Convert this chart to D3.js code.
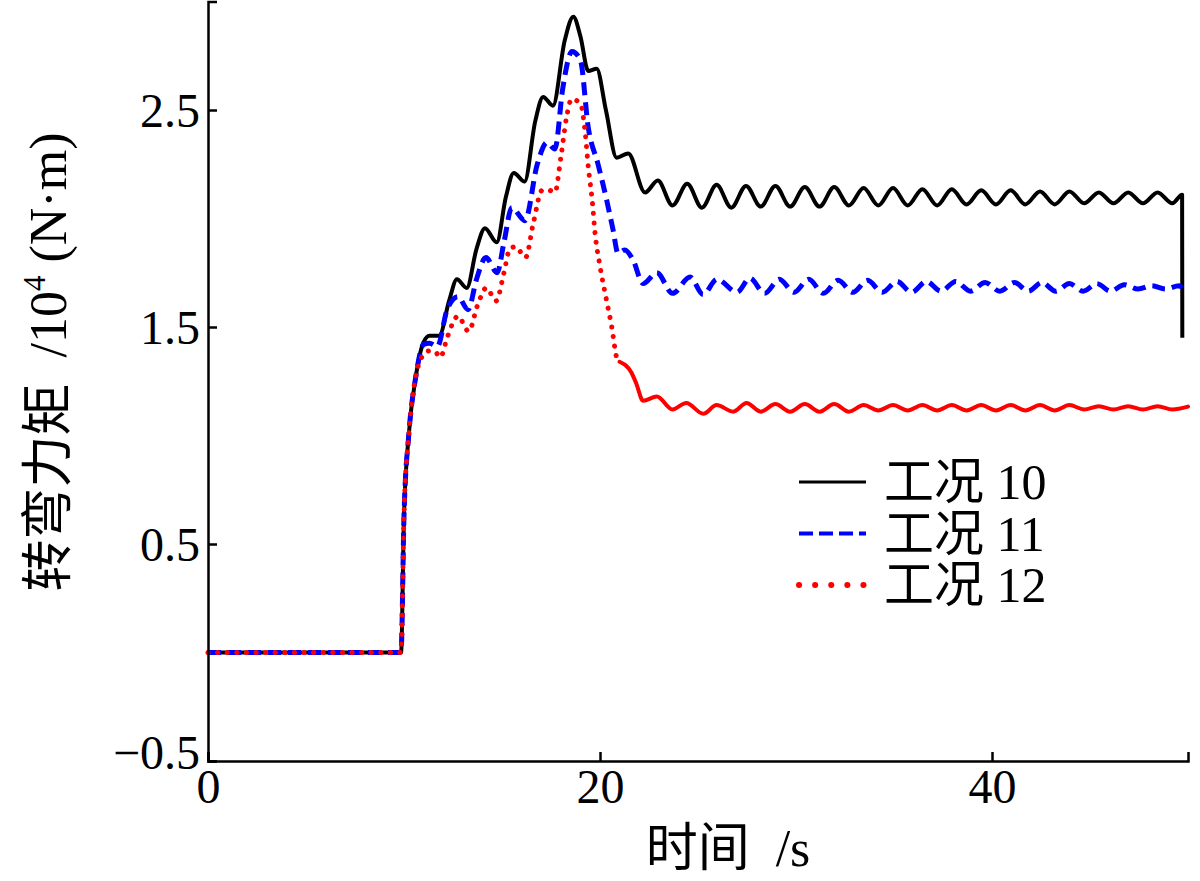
<!DOCTYPE html>
<html lang="zh">
<head>
<meta charset="utf-8">
<title>转弯力矩</title>
<script src="https://d3js.org/d3.v7.min.js"></script>
<style>
  body { margin: 0; background: #fff; }
  svg { display: block; font-family: "Liberation Serif", "Noto Sans CJK SC", serif; }
  .axis path, .axis line { stroke: #000; stroke-width: 2.5; }
  .axis text { font-size: 48px; fill: #000; font-family: "Liberation Serif", serif; }
</style>
</head>
<body>
<svg width="1200" height="881"></svg>
<script>
// series names and colours
const seriesNames = ["工况 10", "工况 11", "工况 12"];
const seriesColors = ["#000000", "#0000ff", "#ff0000"];

// tick values / labels
const xTickValues = [0, 20, 40];
const xTickLabels = ["0", "20", "40"];
const yTickValues = [-0.5, 0.5, 1.5, 2.5];
const yTickLabels = ["\u22120.5", "0.5", "1.5", "2.5"];

// [time s, torque 10^4 N·m]
const case10 = [
  [0, 0], [9.85, 0], [10.0, 0.63], [10.25, 1.01], [10.6, 1.27], [11.0, 1.43],
  [11.3, 1.46], [11.8, 1.46], [12.3, 1.62], [12.7, 1.72], [13.2, 1.68], [13.7, 1.86],
  [14.13, 1.955], [14.73, 1.89], [15.2, 2.10], [15.6, 2.21], [16.15, 2.17], [16.7, 2.45],
  [17.1, 2.56], [17.6, 2.52], [18.2, 2.82], [18.64, 2.93], [19.0, 2.84], [19.4, 2.68],
  [19.83, 2.69], [20.3, 2.50], [20.85, 2.28], [21.44, 2.30], [22.3, 2.12], [22.95, 2.175],
  [23.7, 2.06], [24.45, 2.16], [25.2, 2.05], [25.95, 2.155], [26.7, 2.05], [27.45, 2.15],
  [28.2, 2.055], [28.95, 2.15], [29.7, 2.055], [30.45, 2.145], [31.2, 2.055], [31.95, 2.145],
  [32.7, 2.06], [33.45, 2.14], [34.2, 2.06], [34.95, 2.14], [35.7, 2.06], [36.45, 2.135],
  [37.2, 2.06], [37.95, 2.135], [38.7, 2.065], [39.45, 2.13], [40.2, 2.065], [40.95, 2.13],
  [41.7, 2.065], [42.45, 2.125], [43.2, 2.065], [43.95, 2.125], [44.7, 2.07], [45.45, 2.12],
  [46.2, 2.07], [46.95, 2.12], [47.7, 2.07], [48.45, 2.12], [49.2, 2.07], [49.7, 2.11],
  [49.71, 1.45]
];

const case11 = [
  [0, 0], [9.85, 0], [10.0, 0.63], [10.25, 1.01], [10.6, 1.27], [11.0, 1.42],
  [11.3, 1.425], [11.7, 1.41], [12.2, 1.58], [12.75, 1.64], [13.27, 1.58], [13.7, 1.72],
  [14.18, 1.82], [14.75, 1.75], [15.1, 1.89], [15.5, 2.05], [16.17, 1.99], [16.8, 2.25],
  [17.3, 2.35], [17.7, 2.32], [18.1, 2.60], [18.57, 2.77], [19.0, 2.73], [19.4, 2.42],
  [19.9, 2.25], [20.34, 2.085], [20.66, 1.95], [20.92, 1.84], [21.27, 1.855], [21.68, 1.81],
  [22.2, 1.70], [22.9, 1.75], [23.7, 1.655], [24.6, 1.73], [25.26, 1.65], [25.97, 1.72],
  [26.99, 1.66], [27.65, 1.725], [28.4, 1.655], [29.15, 1.72], [29.9, 1.66], [30.65, 1.72],
  [31.4, 1.655], [32.15, 1.715], [32.9, 1.66], [33.65, 1.715], [34.4, 1.66], [35.15, 1.71],
  [35.9, 1.66], [36.65, 1.71], [37.4, 1.665], [38.15, 1.71], [38.9, 1.665], [39.65, 1.705],
  [40.4, 1.665], [41.15, 1.705], [41.85, 1.665], [42.55, 1.705], [43.25, 1.665], [43.95, 1.70],
  [44.65, 1.665], [45.35, 1.70], [46.05, 1.665], [46.75, 1.695], [47.45, 1.675], [48.15, 1.69],
  [48.85, 1.675], [49.55, 1.69], [49.7, 1.68]
];

const case12 = [
  [0, 0], [9.85, 0], [10.0, 0.63], [10.25, 1.01], [10.6, 1.27], [10.9, 1.36],
  [11.3, 1.39], [11.6, 1.385], [11.85, 1.36], [12.2, 1.45], [12.5, 1.52], [12.75, 1.55],
  [13.3, 1.48], [13.75, 1.60], [14.2, 1.68], [14.7, 1.62], [15.1, 1.75], [15.4, 1.86],
  [15.7, 1.87], [16.2, 1.82], [16.6, 1.98], [17.05, 2.13], [17.4, 2.13], [17.7, 2.12],
  [18.0, 2.28], [18.3, 2.47], [18.55, 2.55], [19.0, 2.53], [19.25, 2.39], [19.4, 2.24],
  [19.6, 2.085], [19.75, 1.93], [20.0, 1.78], [20.34, 1.62], [20.6, 1.50], [20.85, 1.36],
  [21.0, 1.34], [21.6, 1.29], [21.85, 1.24], [22.2, 1.16], [22.9, 1.18], [23.7, 1.12],
  [24.4, 1.15], [25.27, 1.10], [25.95, 1.14], [26.8, 1.11], [27.48, 1.15], [28.2, 1.11],
  [28.95, 1.145], [29.7, 1.11], [30.45, 1.145], [31.2, 1.11], [31.95, 1.145], [32.7, 1.11],
  [33.45, 1.14], [34.2, 1.115], [34.95, 1.14], [35.7, 1.115], [36.45, 1.14], [37.2, 1.115],
  [37.95, 1.14], [38.7, 1.115], [39.45, 1.14], [40.2, 1.115], [40.95, 1.14], [41.7, 1.115],
  [42.45, 1.14], [43.2, 1.115], [43.95, 1.14], [44.7, 1.12], [45.45, 1.135], [46.2, 1.12],
  [46.95, 1.135], [47.7, 1.12], [48.45, 1.135], [49.2, 1.12], [50.0, 1.133]
];

// after this time the dense red dots merge into a solid trace
const redSolidFrom = 21.0;

const svg = d3.select("svg");

const x = d3.scaleLinear().domain([0, 50]).range([208, 1188]);
const y = d3.scaleLinear().domain([-0.5, 3.0]).range([761, 1.5]);

const line = d3.line()
  .x(d => x(d[0]))
  .y(d => y(d[1]))
  .curve(d3.curveMonotoneX);

function drawSeries(data, color, width, dash, cap) {
  svg.append("path")
    .datum(data)
    .attr("d", line)
    .attr("fill", "none")
    .attr("stroke", color)
    .attr("stroke-width", width)
    .attr("stroke-dasharray", dash)
    .attr("stroke-linecap", cap)
    .attr("stroke-linejoin", "round");
}

drawSeries(case10, seriesColors[0], 4, null, "butt");
drawSeries(case11, seriesColors[1], 5, "13 7", "butt");
drawSeries(case12.filter(d => d[0] <= redSolidFrom), seriesColors[2], 5, "0.1 9.5", "round");
drawSeries(case12.filter(d => d[0] >= redSolidFrom), seriesColors[2], 4, null, "round");

// axes, ticks pointing inwards like MATLAB
svg.append("g")
  .attr("class", "axis xaxis")
  .attr("transform", "translate(0," + y(-0.5) + ")")
  .call(d3.axisBottom(x)
    .tickValues(xTickValues)
    .tickFormat((d, i) => xTickLabels[i])
    .tickSizeInner(-9)
    .tickSizeOuter(-9)
    .tickPadding(8));

svg.append("g")
  .attr("class", "axis yaxis")
  .attr("transform", "translate(" + x(0) + ",0)")
  .call(d3.axisLeft(y)
    .tickValues(yTickValues)
    .tickFormat((d, i) => yTickLabels[i])
    .tickSizeInner(-9)
    .tickSizeOuter(-9)
    .tickPadding(8));

svg.selectAll(".yaxis .tick text").attr("dy", "0.34em");
svg.selectAll(".yaxis .tick text").filter(d => d === -0.5).attr("dy", "0.15em");

// axis titles
svg.append("text")
  .attr("x", 728)
  .attr("y", 866)
  .attr("text-anchor", "middle")
  .attr("font-size", 52)
  .style("white-space", "pre")
  .text("时间  /s");

const yTitle = svg.append("text")
  .attr("transform", "translate(66,362) rotate(-90)")
  .attr("text-anchor", "middle")
  .attr("font-size", 52)
  .style("white-space", "pre");
yTitle.append("tspan").text("转弯力矩  /10");
yTitle.append("tspan").attr("font-size", 31).attr("dy", -21).text("4");
yTitle.append("tspan").attr("dy", 21).text(" (N·m)");

// legend
const legendDash = [null, "14 6", "0.1 16"];
const legendWidth = [3, 4, 6];
const legendCap = ["butt", "butt", "round"];
const legend = svg.append("g");
seriesNames.forEach((name, i) => {
  const ly = 482 + i * 51.5;
  legend.append("line")
    .attr("x1", 799).attr("x2", 866)
    .attr("y1", ly).attr("y2", ly)
    .attr("stroke", seriesColors[i])
    .attr("stroke-width", legendWidth[i])
    .attr("stroke-dasharray", legendDash[i])
    .attr("stroke-linecap", legendCap[i]);
  legend.append("text")
    .attr("x", 884)
    .attr("y", ly + 17)
    .attr("font-size", 50)
    .text(name);
});
</script>
</body>
</html>
